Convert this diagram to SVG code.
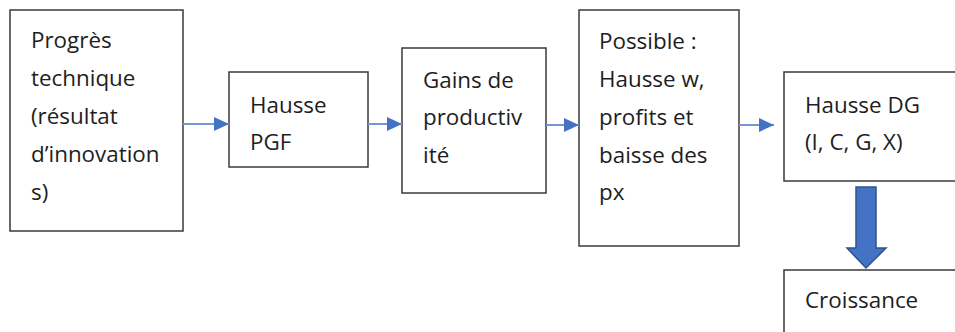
<svg xmlns="http://www.w3.org/2000/svg" width="955" height="332" viewBox="0 0 955 332">
<style>
.box{fill:#fff;stroke:#3a3a3a;stroke-width:1.5}
.t{font-family:"Open Sans","Noto Sans",sans-serif;font-size:22.4px;fill:#1e1e1e}
.c{stroke:#7596d6;stroke-width:2;fill:none}
</style>
<defs>
<marker id="ah" markerUnits="userSpaceOnUse" markerWidth="16" markerHeight="14" refX="15" refY="7" orient="auto">
<path d="M0,0 L15,7 L0,14 Z" fill="#4472C4"/>
</marker>
</defs>
<rect width="955" height="332" fill="#fff"/>
<g id="n1">
<rect class="box" x="10" y="10" width="173" height="221"/>
<text class="t" x="31"><tspan x="31" y="48">Progrès</tspan><tspan x="31" y="86">technique</tspan><tspan x="31" y="124">(résultat</tspan><tspan x="31" y="162">d’innovation</tspan><tspan x="31" y="200">s)</tspan></text>
</g>
<g id="n2">
<rect class="box" x="229" y="72" width="139" height="95"/>
<text class="t"><tspan x="250" y="113">Hausse</tspan><tspan x="250" y="150">PGF</tspan></text>
</g>
<g id="n3">
<rect class="box" x="402" y="48" width="144" height="145"/>
<text class="t"><tspan x="423" y="88">Gains de</tspan><tspan x="423" y="125">productiv</tspan><tspan x="423" y="163">ité</tspan></text>
</g>
<g id="n4">
<rect class="box" x="579" y="10" width="160" height="236"/>
<text class="t"><tspan x="599" y="49">Possible :</tspan><tspan x="599" y="87">Hausse w,</tspan><tspan x="599" y="125">profits et</tspan><tspan x="599" y="163">baisse des</tspan><tspan x="599" y="200">px</tspan></text>
</g>
<g id="n5">
<rect class="box" x="784" y="72" width="180" height="109"/>
<text class="t"><tspan x="805" y="113">Hausse DG</tspan><tspan x="805" y="150">(I, C, G, X)</tspan></text>
</g>
<g id="n6">
<rect class="box" x="784" y="270" width="180" height="80"/>
<text class="t" x="805" y="308">Croissance</text>
</g>
<g id="connectors">
<line class="c" x1="183" y1="124" x2="229" y2="124" marker-end="url(#ah)"/>
<line class="c" x1="368" y1="124" x2="402" y2="124" marker-end="url(#ah)"/>
<line class="c" x1="546" y1="125" x2="579" y2="125" marker-end="url(#ah)"/>
<line class="c" x1="739" y1="125" x2="774" y2="125" marker-end="url(#ah)"/>
<path d="M856,187 L876,187 L876,248 L886,248 L866,268 L847,248 L856,248 Z" fill="#4472C4" stroke="#2F528F" stroke-width="1.5"/>
</g>
</svg>
